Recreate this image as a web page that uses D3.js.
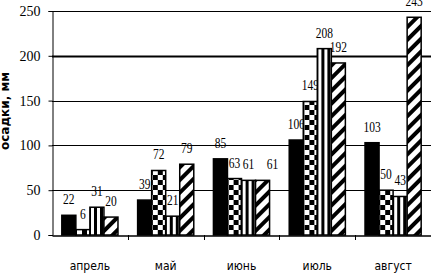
<!DOCTYPE html>
<html>
<head>
<meta charset="utf-8">
<script src="https://cdn.jsdelivr.net/npm/d3@7"></script>
<style>
  body { margin: 0; background: #fff; }
  svg { display: block; }
</style>
</head>
<body>
<svg id="chart" width="431" height="273"></svg>
<script>
// monthly precipitation, 4 series per month
const months = ["апрель", "май", "июнь", "июль", "август"];
const seriesKeys = ["s1", "s2", "s3", "s4"];
const s1 = [22, 39, 85, 106, 103];
const s2 = [6, 72, 63, 149, 50];
const s3 = [31, 21, 61, 208, 43];
const s4 = [20, 79, 61, 192, 243];
const yTicks = [0, 50, 100, 150, 200, 250];
const yTitle = "осадки, мм";

const seriesValues = [s1, s2, s3, s4];
const fills = ["#000", "url(#checker)", "url(#vstripe)", "url(#diag)"];

let svg = d3.select("#chart"),
    width = +svg.attr("width"),
    height = +svg.attr("height"),
    margin = {top: 11, right: 0, bottom: 38, left: 52};

// patterns
let defs = svg.append("defs");
let checker = defs.append("pattern").attr("id", "checker")
    .attr("patternUnits", "userSpaceOnUse").attr("width", 10).attr("height", 10);
checker.append("rect").attr("width", 10).attr("height", 10).attr("fill", "#fff");
checker.append("rect").attr("width", 5).attr("height", 5).attr("fill", "#000");
checker.append("rect").attr("x", 5).attr("y", 5).attr("width", 5).attr("height", 5).attr("fill", "#000");

let vstripe = defs.append("pattern").attr("id", "vstripe")
    .attr("patternUnits", "userSpaceOnUse").attr("width", 6).attr("height", 6);
vstripe.append("rect").attr("width", 6).attr("height", 6).attr("fill", "#fff");
vstripe.append("rect").attr("width", 3).attr("height", 6).attr("fill", "#000");

let diag = defs.append("pattern").attr("id", "diag")
    .attr("patternUnits", "userSpaceOnUse").attr("width", 9).attr("height", 9)
    .attr("patternTransform", "rotate(45)");
diag.append("rect").attr("width", 9).attr("height", 9).attr("fill", "#fff");
diag.append("rect").attr("width", 4).attr("height", 9).attr("fill", "#000");

let xScale = d3.scaleBand()
    .domain(months)
    .range([margin.left, width - margin.right]);

let xInner = d3.scaleBand()
    .domain(seriesKeys)
    .range([0, xScale.bandwidth()])
    .paddingOuter(0.7);

let yScale = d3.scaleLinear()
    .domain([0, 250])
    .range([height - margin.bottom, margin.top]);

// gridlines
svg.append("g")
    .selectAll("line")
    .data(yTicks.filter(d => d > 0))
    .enter()
    .append("line")
    .attr("x1", margin.left)
    .attr("x2", width - margin.right)
    .attr("y1", d => Math.round(yScale(d)) + 0.5)
    .attr("y2", d => Math.round(yScale(d)) + 0.5)
    .attr("stroke", "#000")
    .attr("stroke-width", d => d === 200 ? 2 : 1);

// y axis
let yAxis = d3.axisLeft(yScale)
    .tickValues(yTicks)
    .tickSize(4)
    .tickPadding(8);

svg.append("g")
    .attr("transform", `translate(${margin.left + 0.5},0)`)
    .call(yAxis)
    .call(g => g.select(".domain").attr("stroke", "#000"))
    .call(g => g.selectAll("text")
        .attr("font-family", "'Liberation Serif', serif")
        .attr("font-size", 14)
        .attr("fill", "#000"));

// x axis
let xAxis = d3.axisBottom(xScale)
    .tickSize(0)
    .tickPadding(26);

svg.append("g")
    .attr("transform", `translate(0,${Math.round(yScale(0)) + 0.5})`)
    .call(xAxis)
    .call(g => g.select(".domain").attr("stroke", "#000").attr("stroke-width", 1.5))
    .call(g => g.selectAll("text")
        .attr("font-family", "'Liberation Sans Narrow', 'DejaVu Sans Condensed', sans-serif")
        .attr("font-size", 12)
        .attr("fill", "#000"));

// category boundary ticks
svg.append("g")
    .selectAll("line")
    .data(months.slice(1))
    .enter()
    .append("line")
    .attr("x1", d => Math.round(xScale(d)) + 0.5)
    .attr("x2", d => Math.round(xScale(d)) + 0.5)
    .attr("y1", yScale(0))
    .attr("y2", yScale(0) + 5)
    .attr("stroke", "#000");

// value labels (drawn under the bars like the original)
let labels = [];
seriesValues.forEach(function(vals, si){
    vals.forEach(function(v, mi){
        labels.push({si: si, mi: mi, v: v});
    });
});

svg.append("g")
    .selectAll("text")
    .data(labels)
    .enter()
    .append("text")
    .attr("transform", function(d){
        let x = xScale(months[d.mi]) + xInner(seriesKeys[d.si]) + xInner.bandwidth() / 2;
        if (d.si === 3 && d.mi === 2) x += 10;
        return `translate(${x},${yScale(d.v) - 11}) scale(0.82,1)`;
    })
    .attr("text-anchor", "middle")
    .attr("font-family", "'Liberation Serif', serif")
    .attr("font-size", 14)
    .attr("fill", "#000")
    .text(d => d.v);

// bars
let groups = svg.append("g")
    .selectAll("g")
    .data(months)
    .enter()
    .append("g")
    .attr("transform", d => `translate(${xScale(d)},0)`);

groups.selectAll("rect")
    .data((m, mi) => seriesKeys.map((k, si) => ({k: k, si: si, v: seriesValues[si][mi]})))
    .enter()
    .append("rect")
    .attr("x", d => xInner(d.k))
    .attr("y", d => yScale(d.v))
    .attr("width", xInner.bandwidth())
    .attr("height", d => yScale(0) - yScale(d.v))
    .attr("fill", d => fills[d.si])
    .attr("stroke", "#000")
    .attr("stroke-width", 1.5);

// y title
svg.append("text")
    .attr("transform", `translate(9,${111}) rotate(-90)`)
    .attr("text-anchor", "middle")
    .attr("font-family", "'DejaVu Sans', sans-serif")
    .attr("font-weight", "bold")
    .attr("font-size", 12)
    .attr("fill", "#000")
    .text(yTitle);
</script>
</body>
</html>
